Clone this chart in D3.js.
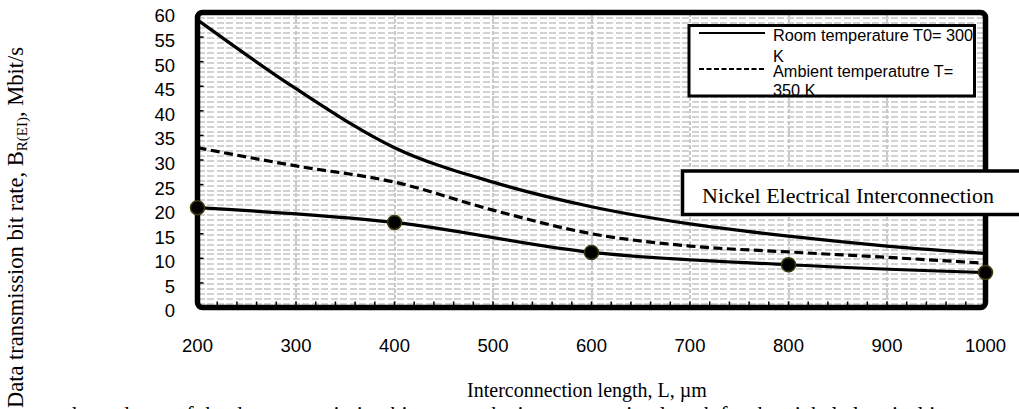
<!DOCTYPE html>
<html>
<head>
<meta charset="utf-8">
<script src="https://cdn.jsdelivr.net/npm/d3@7"></script>
<style>
  html, body { margin: 0; padding: 0; background: #fff; overflow: hidden; }
  svg { display: block; }
</style>
</head>
<body>
<svg id="chart"></svg>
<script>
// values
var lengths = [200, 300, 400, 500, 600, 700, 800, 900, 1000];
var roomTemp = [58.5, 44.5, 32.5, 25.5, 20.5, 17, 14.5, 12.5, 11];
var ambientTemp = [32.5, 28.8, 25.5, 19.8, 15, 12.5, 11.3, 10.2, 9];
var markerLengths = [200, 400, 600, 800, 1000];
var nickelMeasured = [20.3, 17.3, 11.2, 8.7, 7.1];
var xTicks = [200, 300, 400, 500, 600, 700, 800, 900, 1000];
var yTicks = [0, 5, 10, 15, 20, 25, 30, 35, 40, 45, 50, 55, 60];
var legendLabels = [["Room temperature T0= 300", "K"], ["Ambient temperatutre T=", "350 K"]];

var width = 1019, height = 409;
var svg = d3.select("#chart").attr("width", width).attr("height", height);

var x = d3.scaleLinear().domain([200, 1000]).range([197.5, 985.5]);
var y = d3.scaleLinear().domain([0, 60]).range([307.5, 12.5]);

// grid
var grid = svg.append("g").attr("shape-rendering", "crispEdges");
grid.selectAll(".hgrid")
    .data(d3.range(1, 60))
    .enter().append("line")
    .attr("x1", x(200)).attr("x2", x(1000))
    .attr("y1", function (d) { return Math.round(y(d)) + 0.5; })
    .attr("y2", function (d) { return Math.round(y(d)) + 0.5; })
    .attr("stroke", "#d2d2d2")
    .attr("stroke-width", 2)
    .attr("stroke-dasharray", "7,2.5");
grid.selectAll(".vgrid")
    .data(xTicks.slice(1, -1))
    .enter().append("line")
    .attr("x1", function (d) { return Math.round(x(d)); })
    .attr("x2", function (d) { return Math.round(x(d)); })
    .attr("y1", y(60)).attr("y2", y(0))
    .attr("stroke", "#c8c8c8")
    .attr("stroke-width", 2)
    .attr("stroke-dasharray", "4,2");

// frame with small inward ticks
svg.append("rect")
    .attr("x", x(200)).attr("y", y(60))
    .attr("width", x(1000) - x(200)).attr("height", y(0) - y(60))
    .attr("rx", 5)
    .attr("fill", "none")
    .attr("stroke", "#000")
    .attr("stroke-width", 5.5);
svg.append("g").selectAll("line")
    .data(yTicks)
    .enter().append("line")
    .attr("x1", x(200)).attr("x2", x(200) + 6)
    .attr("y1", function (d) { return y(d); })
    .attr("y2", function (d) { return y(d); })
    .attr("stroke", "#000").attr("stroke-width", 1.5);
svg.append("g").selectAll("line")
    .data(d3.range(220, 1000, 20))
    .enter().append("line")
    .attr("x1", function (d) { return x(d); })
    .attr("x2", function (d) { return x(d); })
    .attr("y1", y(0)).attr("y2", y(0) - 6)
    .attr("stroke", "#000").attr("stroke-width", 1.5);

// tick labels
svg.append("g").selectAll("text")
    .data(yTicks)
    .enter().append("text")
    .attr("x", 175)
    .attr("y", function (d) { return y(d) + 3.5; })
    .attr("dy", "0.35em")
    .attr("text-anchor", "end")
    .attr("font-family", "Liberation Sans, Arial, sans-serif")
    .attr("font-size", 18.5)
    .text(function (d) { return d; });
svg.append("g").selectAll("text")
    .data(xTicks)
    .enter().append("text")
    .attr("x", function (d) { return x(d); })
    .attr("y", 352)
    .attr("text-anchor", "middle")
    .attr("font-family", "Liberation Sans, Arial, sans-serif")
    .attr("font-size", 18.5)
    .text(function (d) { return d; });

// series
var room = lengths.map(function (d, i) { return [d, roomTemp[i]]; });
var ambient = lengths.map(function (d, i) { return [d, ambientTemp[i]]; });
var nickel = markerLengths.map(function (d, i) { return [d, nickelMeasured[i]]; });

var line = d3.line()
    .x(function (d) { return x(d[0]); })
    .y(function (d) { return y(d[1]); })
    .curve(d3.curveMonotoneX);

svg.append("path").datum(room)
    .attr("d", line).attr("fill", "none")
    .attr("stroke", "#000").attr("stroke-width", 3.2);
svg.append("path").datum(ambient)
    .attr("d", line).attr("fill", "none")
    .attr("stroke", "#000").attr("stroke-width", 3.2)
    .attr("stroke-dasharray", "9,4.5");
svg.append("path").datum(nickel)
    .attr("d", line).attr("fill", "none")
    .attr("stroke", "#000").attr("stroke-width", 3.2);
svg.append("g").selectAll("circle")
    .data(nickel)
    .enter().append("circle")
    .attr("cx", function (d) { return x(d[0]); })
    .attr("cy", function (d) { return y(d[1]); })
    .attr("r", 7)
    .attr("fill", "#000")
    .attr("stroke", "#3b3a10")
    .attr("stroke-width", 1.5);

// legend
var legend = svg.append("g");
svg.append("clipPath").attr("id", "legclip")
    .append("rect").attr("x", 689).attr("y", 25.5).attr("width", 285.5).attr("height", 69.5);
legend.append("rect")
    .attr("x", 689).attr("y", 25.5).attr("width", 285.5).attr("height", 70.5)
    .attr("fill", "#fff").attr("stroke", "#000").attr("stroke-width", 3);
var legText = legend.append("g").attr("clip-path", "url(#legclip)");
var legRows = [{ y: 41, dash: null }, { y: 77, dash: "5,2.5" }];
legRows.forEach(function (r, i) {
    legText.append("line")
        .attr("x1", 699).attr("x2", 765)
        .attr("y1", r.y - 8).attr("y2", r.y - 8)
        .attr("stroke", "#000").attr("stroke-width", 2)
        .attr("stroke-dasharray", r.dash);
    legText.append("text")
        .attr("x", 773).attr("y", r.y)
        .attr("font-family", "Liberation Sans, Arial, sans-serif")
        .attr("font-size", 16.3)
        .text(legendLabels[i][0]);
    legText.append("text")
        .attr("x", 773).attr("y", r.y + (i === 0 ? 21 : 19))
        .attr("font-family", "Liberation Sans, Arial, sans-serif")
        .attr("font-size", 16.3)
        .text(legendLabels[i][1]);
});

// annotation box
svg.append("rect")
    .attr("x", 682.5).attr("y", 171).attr("width", 340).attr("height", 43.5)
    .attr("fill", "#fff").attr("stroke", "#000").attr("stroke-width", 3.5);
svg.append("text")
    .attr("x", 702).attr("y", 203)
    .attr("font-family", "Liberation Serif, Times New Roman, serif")
    .attr("font-size", 22)
    .text("Nickel Electrical Interconnection");

// axis titles
var yTitle = svg.append("text")
    .attr("transform", "translate(23,47) rotate(-90)")
    .attr("text-anchor", "end")
    .attr("font-family", "Liberation Serif, Times New Roman, serif")
    .attr("font-size", 22.5);
yTitle.append("tspan").text("Data transmission bit rate, B");
yTitle.append("tspan").attr("font-size", 15).attr("dy", 4).text("R(EI)");
yTitle.append("tspan").attr("dy", -4).text(", Mbit/s");

svg.append("text")
    .attr("x", 587).attr("y", 397)
    .attr("text-anchor", "middle")
    .attr("font-family", "Liberation Serif, Times New Roman, serif")
    .attr("font-size", 20)
    .text("Interconnection length, L, \u00b5m");

// caption line cut off by the bottom edge
svg.append("text")
    .attr("x", 66).attr("y", 421)
    .attr("font-family", "Liberation Serif, Times New Roman, serif")
    .attr("font-size", 22)
    .text("dependence of the data transmission bit rate on the interconnection length for the nickel electrical interconnection at room and ambient temperature");
</script>
</body>
</html>
